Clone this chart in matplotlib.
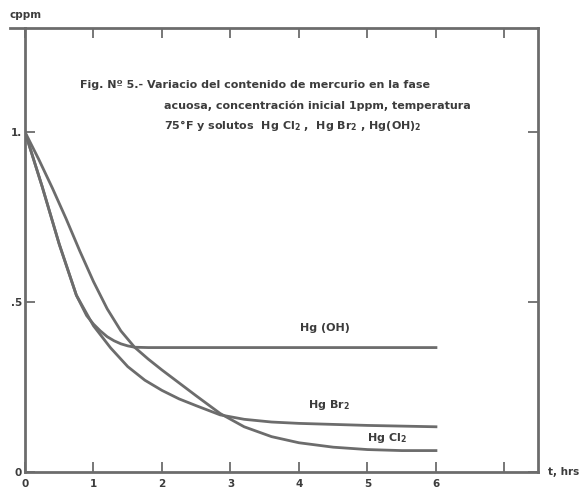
import matplotlib
matplotlib.use("Agg")
import matplotlib.pyplot as plt
from matplotlib.lines import Line2D

# Datos (t en horas, concentracion en ppm)
t_hgoh = [0, 0.25, 0.5, 0.75, 0.9, 1.0, 1.1, 1.2, 1.3, 1.4, 1.5, 1.6, 1.8, 2.5, 3.5, 4.5, 6.0]
c_hgoh = [1.0, 0.84, 0.67, 0.52, 0.46, 0.435, 0.415, 0.398, 0.386, 0.377, 0.371, 0.367, 0.366, 0.366, 0.366, 0.366, 0.366]

t_hgbr2 = [0, 0.25, 0.5, 0.75, 1.0, 1.25, 1.5, 1.75, 2.0, 2.25, 2.5, 2.85, 3.2, 3.6, 4.0, 4.5, 5.0, 5.5, 6.0]
c_hgbr2 = [1.0, 0.84, 0.67, 0.52, 0.43, 0.365, 0.31, 0.27, 0.24, 0.215, 0.195, 0.168, 0.155, 0.147, 0.143, 0.14, 0.137, 0.135, 0.133]

t_hgcl2 = [0, 0.2, 0.4, 0.6, 0.8, 1.0, 1.2, 1.4, 1.6, 1.8, 2.0, 2.25, 2.5, 2.85, 3.2, 3.6, 4.0, 4.5, 5.0, 5.5, 6.0]
c_hgcl2 = [1.0, 0.92, 0.835, 0.745, 0.65, 0.56, 0.48, 0.415, 0.367, 0.332, 0.30, 0.262, 0.224, 0.172, 0.133, 0.104, 0.086, 0.073, 0.066, 0.063, 0.063]

xticks = [0, 1, 2, 3, 4, 5, 6, 7]
xtick_labels = ["0", "1", "2", "3", "4", "5", "6", ""]
yticks = [0, 0.5, 1.0]
ytick_labels = ["0", ".5", "1."]

gris = "#6c6c6c"
texto = "#3c3c3c"

fig = plt.figure(figsize=(5.86, 4.94), dpi=100)
ax = fig.add_axes([25 / 586, 22 / 494, 513 / 586, 444 / 494])

for t, c in [(t_hgoh, c_hgoh), (t_hgbr2, c_hgbr2), (t_hgcl2, c_hgcl2)]:
    ax.plot(t, c, color=gris, lw=2.0, solid_joinstyle="round")

ax.set_xlim(0, 7.49)
ax.set_ylim(0, 1.306)

for s in ax.spines.values():
    s.set_color(gris)
    s.set_linewidth(2.0)

# la linea superior sobresale un poco a la izquierda, como en el original
fig.add_artist(Line2D([10 / 586, 25 / 586], [1 - 28 / 494, 1 - 28 / 494],
                      color=gris, lw=2.0))

ax.set_xticks(xticks)
ax.set_xticklabels(xtick_labels, fontweight="bold")
ax.set_yticks(yticks)
ax.set_yticklabels(ytick_labels, fontweight="bold")
ax.tick_params(direction="in", top=True, right=True, length=7, width=1.3,
               color=gris, labelsize=7.5, labelcolor=texto)
ax.tick_params(axis="x", pad=5)
ax.tick_params(axis="y", pad=2)

# Titulo dentro del grafico
fs = 8
ax.text(0.80, 1.138, "Fig. Nº 5.- Variacio del contenido de mercurio en la fase",
        fontsize=fs, fontweight="bold", color=texto, va="center")
ax.text(2.03, 1.078, "acuosa, concentración inicial 1ppm, temperatura",
        fontsize=fs, fontweight="bold", color=texto, va="center")
ax.text(2.03, 1.018, r"75°F y solutos  Hg Cl$_\mathbf{2}$ ,  Hg Br$_\mathbf{2}$ , Hg(OH)$_\mathbf{2}$",
        fontsize=fs, fontweight="bold", color=texto, va="center")

# Etiquetas de las curvas
ax.text(4.01, 0.424, "Hg (OH)", fontsize=fs, fontweight="bold", color=texto, va="center")
ax.text(4.13, 0.197, r"Hg Br$_\mathbf{2}$", fontsize=fs, fontweight="bold", color=texto, va="center")
ax.text(5.0, 0.10, r"Hg Cl$_\mathbf{2}$", fontsize=fs, fontweight="bold", color=texto, va="center")

fig.text(10 / 586, 1 - 15 / 494, "cppm", fontsize=7.5, fontweight="bold", color=texto, va="center")
fig.text(548 / 586, 1 - 472 / 494, "t, hrs", fontsize=7.5, fontweight="bold", color=texto, va="center")

fig.savefig("out.png", dpi=100)
